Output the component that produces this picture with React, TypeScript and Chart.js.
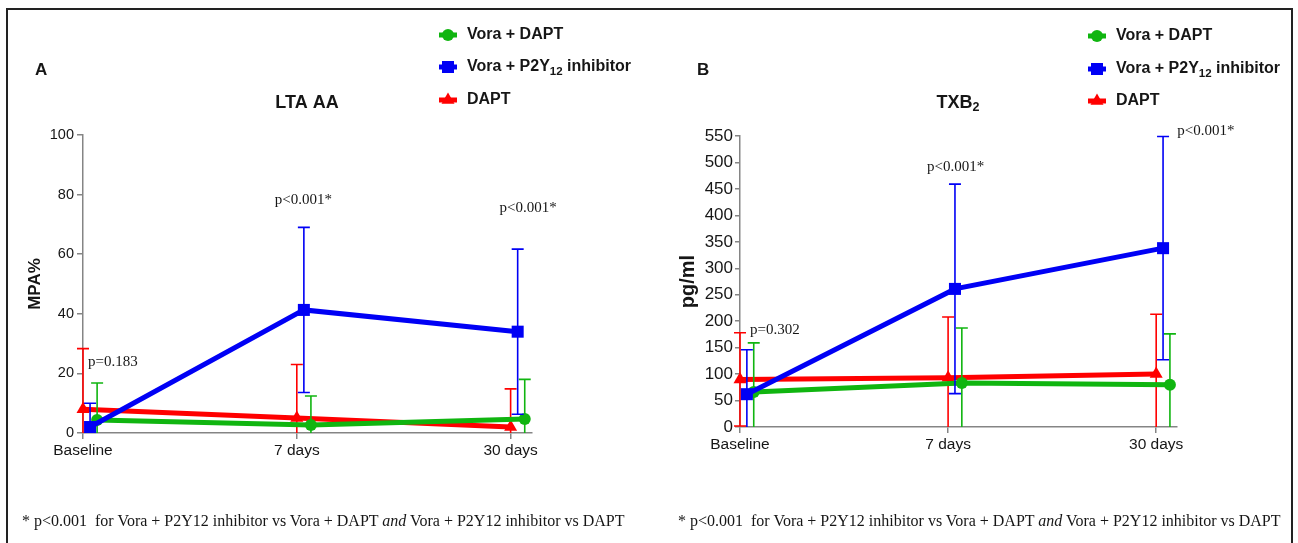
import React, { useEffect, useRef } from "react";
import { Chart, registerables } from "chart.js";

Chart.register(...registerables);

// ---------------- data ----------------
const categories = ["Baseline", "7 days", "30 days"];
const seriesNames = ["Vora + DAPT", "Vora + P2Y12 inhibitor", "DAPT"];

// Panel A – LTA AA (MPA%), mean and SD
const ltaVoraDapt = [4.4, 2.7, 4.7];
const ltaVoraDaptSd = [12.4, 9.7, 13.3];
const ltaVoraP2y12 = [2.0, 41.3, 34.0];
const ltaVoraP2y12Sd = [8.0, 27.7, 27.7];
const ltaDapt = [8.0, 5.0, 2.0];
const ltaDaptSd = [20.3, 18.0, 12.8];
const ltaTicks = [0, 20, 40, 60, 80, 100];
const ltaPValues = ["p=0.183", "p<0.001*", "p<0.001*"];
const ltaPValueLevels = [23.8, 78.2, 75.5];

// Panel B – TXB2 (pg/ml), mean and SD
const txbVoraDapt = [66, 83, 80];
const txbVoraDaptSd = [93, 104, 96];
const txbVoraP2y12 = [62, 261, 338];
const txbVoraP2y12Sd = [84, 198, 211];
const txbDapt = [90, 93, 100];
const txbDaptSd = [88, 115, 113];
const txbTicks = [0, 50, 100, 150, 200, 250, 300, 350, 400, 450, 500, 550];
const txbPValues = ["p=0.302", "p<0.001*", "p<0.001*"];
const txbPValueLevels = [183, 491, 559];

// ---------------- styles ----------------
const SANS = "'Liberation Sans', Arial, sans-serif";
const SERIF = "'Liberation Serif', 'Times New Roman', serif";
const TEXT = "#161616";
const AXIS = "#858585";

const seriesStyles = [
  { color: "#10b510", pointStyle: "circle", radius: 6, nudge: 0.066, order: 1 },
  { color: "#0000f5", pointStyle: "rect", radius: 8.5, nudge: 0.033, order: 0 },
  { color: "#ff0000", pointStyle: "triangle", radius: 7.5, nudge: 0, order: 2 },
];

type Run = { text: string; size: number; bold?: boolean; dy?: number };

const panelA = {
  letter: "A",
  letterPos: [35, 70],
  title: [{ text: "LTA AA", size: 18, bold: true }] as Run[],
  titlePos: [307, 103],
  legendMarkerX: 448,
  legendTextX: 467,
  legendRows: [35, 67, 100],
  yMax: 100,
  yTicks: ltaTicks,
  yTitle: "MPA%",
  yTitleSize: 17,
  yTickSize: 14.5,
  yTickLength: 6,
  yTickPad: 3,
  yWidth: 58,
  padding: { left: 25, right: 766, top: 135, bottom: 70 },
  series: [
    [ltaVoraDapt, ltaVoraDaptSd],
    [ltaVoraP2y12, ltaVoraP2y12Sd],
    [ltaDapt, ltaDaptSd],
  ],
  pValues: ltaPValues,
  pLevels: ltaPValueLevels,
  pDx: [5, -22, -11],
};

const panelB = {
  letter: "B",
  letterPos: [697, 70],
  title: [
    { text: "TXB", size: 18, bold: true },
    { text: "2", size: 12.5, bold: true, dy: 5 },
  ] as Run[],
  titlePos: [958, 103],
  legendMarkerX: 1097,
  legendTextX: 1116,
  legendRows: [36, 69, 101],
  yMax: 550,
  yTicks: txbTicks,
  yTitle: "pg/ml",
  yTitleSize: 20,
  yTickSize: 17,
  yTickLength: 5,
  yTickPad: 2,
  yWidth: 64,
  padding: { left: 676, right: 121, top: 136, bottom: 76 },
  series: [
    [txbVoraDapt, txbVoraDaptSd],
    [txbVoraP2y12, txbVoraP2y12Sd],
    [txbDapt, txbDaptSd],
  ],
  pValues: txbPValues,
  pLevels: txbPValueLevels,
  pDx: [10, -21, 21],
};

type Panel = typeof panelA;

function fontStr(size: number, bold?: boolean, family = SANS) {
  return `${bold ? "bold " : ""}${size}px ${family}`;
}

function drawRuns(ctx: CanvasRenderingContext2D, runs: Run[], x: number, y: number, align: "left" | "center") {
  ctx.textBaseline = "middle";
  ctx.textAlign = "left";
  let total = 0;
  runs.forEach((r) => {
    ctx.font = fontStr(r.size, r.bold);
    total += ctx.measureText(r.text).width;
  });
  let cx = align === "center" ? x - total / 2 : x;
  runs.forEach((r) => {
    ctx.font = fontStr(r.size, r.bold);
    ctx.fillText(r.text, cx, y + (r.dy || 0));
    cx += ctx.measureText(r.text).width;
  });
}

function legendRuns(name: string): Run[] {
  const m = name.match(/^(.*P2Y)(12)(.*)$/);
  if (m) {
    return [
      { text: m[1], size: 16, bold: true },
      { text: m[2], size: 11.5, bold: true, dy: 5 },
      { text: m[3], size: 16, bold: true },
    ];
  }
  return [{ text: name, size: 16, bold: true }];
}

function drawMarker(ctx: CanvasRenderingContext2D, style: string, x: number, y: number, r: number) {
  ctx.beginPath();
  if (style === "circle") {
    ctx.arc(x, y, r, 0, Math.PI * 2);
  } else if (style === "rect") {
    const s = r * Math.SQRT1_2;
    ctx.rect(x - s, y - s, 2 * s, 2 * s);
  } else {
    const a = Math.PI / 2;
    for (let k = 0; k < 3; k++) {
      const ang = -a + (k * 2 * Math.PI) / 3;
      const px = x + Math.cos(ang) * r;
      const py = y + Math.sin(ang) * r;
      if (k === 0) ctx.moveTo(px, py);
      else ctx.lineTo(px, py);
    }
    ctx.closePath();
  }
  ctx.fill();
}

function makeDecor(p: Panel) {
  return {
    id: "decor" + p.letter,
    beforeDatasetDraw(chart: any, args: any) {
      const ds = chart.data.datasets[args.index];
      const y = chart.scales.y;
      const ctx: CanvasRenderingContext2D = chart.ctx;
      ctx.save();
      ctx.strokeStyle = ds.borderColor;
      ctx.lineWidth = 1.6;
      args.meta.data.forEach((pt: any, i: number) => {
        const m = ds.data[i].y;
        const sd = ds.sd[i];
        const hi = m + sd;
        const lo = m - sd;
        const top = y.getPixelForValue(Math.min(hi, y.max));
        const bot = y.getPixelForValue(Math.max(lo, y.min));
        ctx.beginPath();
        ctx.moveTo(pt.x, top);
        ctx.lineTo(pt.x, bot);
        if (hi <= y.max) {
          ctx.moveTo(pt.x - 6, top);
          ctx.lineTo(pt.x + 6, top);
        }
        if (lo >= y.min) {
          ctx.moveTo(pt.x - 6, bot);
          ctx.lineTo(pt.x + 6, bot);
        }
        ctx.stroke();
      });
      ctx.restore();
    },
    afterDraw(chart: any) {
      const ctx: CanvasRenderingContext2D = chart.ctx;
      const xs = chart.scales.x;
      const ys = chart.scales.y;
      ctx.save();
      ctx.fillStyle = TEXT;
      // panel letter
      drawRuns(ctx, [{ text: p.letter, size: 17, bold: true }], p.letterPos[0], p.letterPos[1], "left");
      // title
      drawRuns(ctx, p.title, p.titlePos[0], p.titlePos[1], "center");
      // legend
      seriesNames.forEach((name, k) => {
        const st = seriesStyles[k];
        const yy = p.legendRows[k];
        ctx.strokeStyle = st.color;
        ctx.fillStyle = st.color;
        ctx.lineWidth = 5;
        ctx.beginPath();
        ctx.moveTo(p.legendMarkerX - 9, yy);
        ctx.lineTo(p.legendMarkerX + 9, yy);
        ctx.stroke();
        drawMarker(ctx, st.pointStyle, p.legendMarkerX, yy, st.radius);
        ctx.fillStyle = TEXT;
        drawRuns(ctx, legendRuns(name), p.legendTextX, yy, "left");
      });
      // p-values
      ctx.font = fontStr(15, false, SERIF);
      ctx.textAlign = "left";
      ctx.textBaseline = "middle";
      ctx.fillStyle = TEXT;
      p.pValues.forEach((t, i) => {
        ctx.fillText(t, xs.getPixelForValue(i) + p.pDx[i], ys.getPixelForValue(p.pLevels[i]));
      });
      ctx.restore();
    },
  };
}

function makeConfig(p: Panel): any {
  const datasets = p.series.map(([vals, sds], k) => {
    const st = seriesStyles[k];
    return {
      label: seriesNames[k],
      data: vals.map((v, i) => ({ x: i + st.nudge, y: v })),
      sd: sds,
      borderColor: st.color,
      backgroundColor: st.color,
      pointBackgroundColor: st.color,
      pointBorderColor: st.color,
      pointBorderWidth: 0,
      pointStyle: st.pointStyle,
      pointRadius: st.radius,
      pointHoverRadius: st.radius,
      borderWidth: 5,
      tension: 0,
      order: st.order,
      clip: false,
    };
  });
  return {
    type: "line",
    data: { datasets },
    plugins: [makeDecor(p)],
    options: {
      animation: false,
      responsive: false,
      devicePixelRatio: 1,
      events: [],
      layout: { padding: p.padding },
      plugins: { legend: { display: false }, tooltip: { enabled: false }, title: { display: false } },
      scales: {
        x: {
          type: "linear",
          min: 0,
          max: 2.1,
          afterBuildTicks: (s: any) => {
            s.ticks = categories.map((_, i) => ({ value: i }));
          },
          afterFit: (s: any) => {
            s.height = 40;
          },
          ticks: {
            callback: (v: number) => categories[v] ?? "",
            font: { family: SANS, size: 15.5 },
            color: TEXT,
            padding: 2,
            autoSkip: false,
            maxRotation: 0,
          },
          grid: { display: true, drawOnChartArea: false, drawTicks: true, tickLength: 6, color: AXIS, lineWidth: 1.5 },
          border: { display: true, color: AXIS, width: 1.5 },
        },
        y: {
          type: "linear",
          min: 0,
          max: p.yMax,
          afterBuildTicks: (s: any) => {
            s.ticks = p.yTicks.map((v) => ({ value: v }));
          },
          afterFit: (s: any) => {
            s.width = p.yWidth;
          },
          ticks: {
            font: { family: SANS, size: p.yTickSize },
            color: TEXT,
            padding: p.yTickPad,
          },
          grid: { display: true, drawOnChartArea: false, drawTicks: true, tickLength: p.yTickLength, color: AXIS, lineWidth: 1.5 },
          border: { display: true, color: AXIS, width: 1.5 },
          title: {
            display: true,
            text: p.yTitle,
            font: { family: SANS, size: p.yTitleSize, weight: "bold" },
            color: TEXT,
            padding: 0,
          },
        },
      },
    },
  };
}

const footStyle: React.CSSProperties = {
  position: "absolute",
  top: 511,
  font: `16px ${SERIF}`,
  color: TEXT,
  whiteSpace: "pre",
  lineHeight: "20px",
};

function Footnote({ left }: { left: number }) {
  return (
    <div style={{ ...footStyle, left }}>
      {"* p<0.001  for Vora + P2Y12 inhibitor vs Vora + DAPT "}
      <i>and</i>
      {" Vora + P2Y12 inhibitor vs DAPT"}
    </div>
  );
}

export default function App() {
  const refA = useRef<HTMLCanvasElement>(null);
  const refB = useRef<HTMLCanvasElement>(null);
  useEffect(() => {
    const a = new Chart(refA.current as HTMLCanvasElement, makeConfig(panelA));
    const b = new Chart(refB.current as HTMLCanvasElement, makeConfig(panelB));
    return () => {
      a.destroy();
      b.destroy();
    };
  }, []);
  return (
    <div style={{ position: "fixed", left: 0, top: 0, width: 1298, height: 543, background: "#fff", overflow: "hidden" }}>
      <div
        style={{
          position: "absolute",
          left: 6,
          top: 8,
          width: 1283,
          height: 600,
          borderLeft: "2px solid #222",
          borderTop: "2px solid #222",
          borderRight: "2px solid #222",
        }}
      />
      <canvas ref={refA} width={1298} height={543} style={{ position: "absolute", left: 0, top: 0 }} />
      <canvas ref={refB} width={1298} height={543} style={{ position: "absolute", left: 0, top: 0 }} />
      <Footnote left={22} />
      <Footnote left={678} />
    </div>
  );
}
